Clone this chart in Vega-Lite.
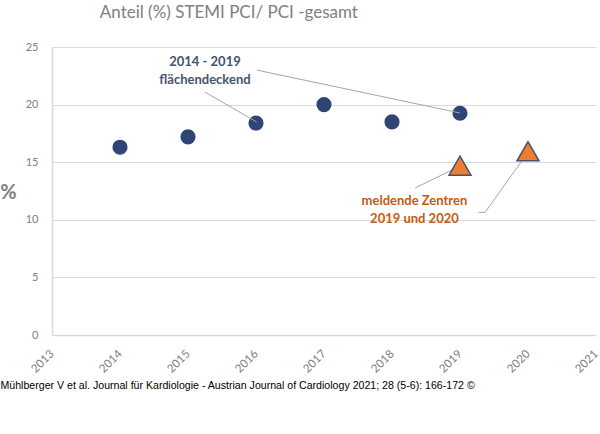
{
  "$schema": "https://vega.github.io/schema/vega-lite/v6.json",
  "width": 544,
  "height": 288,
  "autosize": "none",
  "padding": {"left": 52, "top": 47, "right": 4, "bottom": 99},
  "background": "white",
  "config": {"view": {"stroke": null}, "font": "Lato"},
  "title": {
    "text": "Anteil (%) STEMI PCI/ PCI -gesamt",
    "anchor": "start",
    "dx": 100,
    "offset": 6,
    "baseline": "alphabetic",
    "font": "Lato",
    "fontSize": 17,
    "fontWeight": "normal",
    "color": "#808080"
  },
  "datasets": {
    "circles": [
      {"year": 2014, "value": 16.3},
      {"year": 2015, "value": 17.2},
      {"year": 2016, "value": 18.4},
      {"year": 2017, "value": 20.0},
      {"year": 2018, "value": 18.5},
      {"year": 2019, "value": 19.25}
    ],
    "triangles": [
      {"year": 2019, "value": 14.7},
      {"year": 2020, "value": 15.95}
    ],
    "leaders": [
      {"seg": "a", "o": 1, "x": 2016.01, "y": 23.0},
      {"seg": "a", "o": 2, "x": 2019.0, "y": 19.27},
      {"seg": "b", "o": 1, "x": 2015.25, "y": 21.09},
      {"seg": "b", "o": 2, "x": 2016.01, "y": 18.49},
      {"seg": "c", "o": 1, "x": 2018.34, "y": 12.76},
      {"seg": "c", "o": 2, "x": 2019.0, "y": 14.67},
      {"seg": "d", "o": 1, "x": 2019.27, "y": 10.65},
      {"seg": "d", "o": 2, "x": 2019.37, "y": 10.65},
      {"seg": "d", "o": 3, "x": 2020.03, "y": 16.12}
    ],
    "labels": [
      {"group": "blue", "x": 2015.25, "y": 23.7, "text": "2014 - 2019"},
      {"group": "blue", "x": 2015.25, "y": 22.14, "text": "flächendeckend"},
      {"group": "orange", "x": 2018.33, "y": 11.63, "text": "meldende Zentren"},
      {"group": "orange", "x": 2018.33, "y": 10.07, "text": "2019 und 2020"}
    ]
  },
  "layer": [
    {
      "data": {"name": "circles"},
      "mark": {"type": "point", "shape": "circle", "filled": true, "size": 230, "color": "#2f4576", "opacity": 1},
      "encoding": {
        "x": {
          "field": "year", "type": "quantitative",
          "scale": {"domain": [2013, 2021], "nice": false, "zero": false},
          "axis": {
            "values": [2013, 2014, 2015, 2016, 2017, 2018, 2019, 2020, 2021],
            "format": "d",
            "grid": false,
            "ticks": false,
            "domainColor": "#d9d9d9",
            "domainWidth": 1.5,
            "labelAngle": -45,
            "labelAlign": "right",
            "labelBaseline": "middle",
            "labelPadding": 17,
            "labelFont": "Lato",
            "labelFontSize": 11.5,
            "labelColor": "#808080",
            "labelOverlap": false,
            "labelBound": false,
            "labelFlush": false,
            "title": "Mühlberger V et al. Journal für Kardiologie - Austrian Journal of Cardiology 2021; 28 (5-6): 166-172 ©",
            "titleAnchor": "start",
            "titleAlign": "left",
            "titleX": -52,
            "titleY": 50,
            "titleBaseline": "middle",
            "titleFont": "Liberation Sans",
            "titleFontSize": 10.6,
            "titleFontWeight": "normal",
            "titleColor": "#000000"
          }
        },
        "y": {
          "field": "value", "type": "quantitative",
          "scale": {"domain": [0, 25], "nice": false},
          "axis": {
            "values": [0, 5, 10, 15, 20, 25],
            "grid": true,
            "gridColor": "#d9d9d9",
            "gridWidth": 1,
            "ticks": false,
            "domainColor": "#d9d9d9",
            "domainWidth": 1.5,
            "labelPadding": 14,
            "labelFont": "Lato",
            "labelFontSize": 11,
            "labelColor": "#808080",
            "title": "%",
            "titleAngle": 0,
            "titleX": -44,
            "titleY": 145,
            "titleAlign": "center",
            "titleBaseline": "middle",
            "titleFont": "Lato",
            "titleFontSize": 20,
            "titleFontWeight": "bold",
            "titleColor": "#808080"
          }
        }
      }
    },
    {
      "data": {"name": "leaders"},
      "mark": {"type": "line", "color": "#a6a6a6", "strokeWidth": 1},
      "encoding": {
        "x": {"field": "x", "type": "quantitative"},
        "y": {"field": "y", "type": "quantitative"},
        "detail": {"field": "seg"},
        "order": {"field": "o"}
      }
    },
    {
      "data": {"name": "triangles"},
      "mark": {"type": "point", "shape": "triangle-up", "filled": true, "size": 484, "fill": "#ed7d31", "stroke": "#44546a", "strokeWidth": 1.5, "opacity": 1},
      "encoding": {
        "x": {"field": "year", "type": "quantitative"},
        "y": {"field": "value", "type": "quantitative"}
      }
    },
    {
      "data": {"name": "labels"},
      "mark": {"type": "text", "font": "Lato", "fontSize": 13, "fontWeight": "bold", "align": "center", "baseline": "middle"},
      "encoding": {
        "x": {"field": "x", "type": "quantitative"},
        "y": {"field": "y", "type": "quantitative"},
        "text": {"field": "text"},
        "color": {
          "field": "group", "type": "nominal",
          "scale": {"domain": ["blue", "orange"], "range": ["#44546a", "#c55a11"]},
          "legend": null
        }
      }
    }
  ]
}
